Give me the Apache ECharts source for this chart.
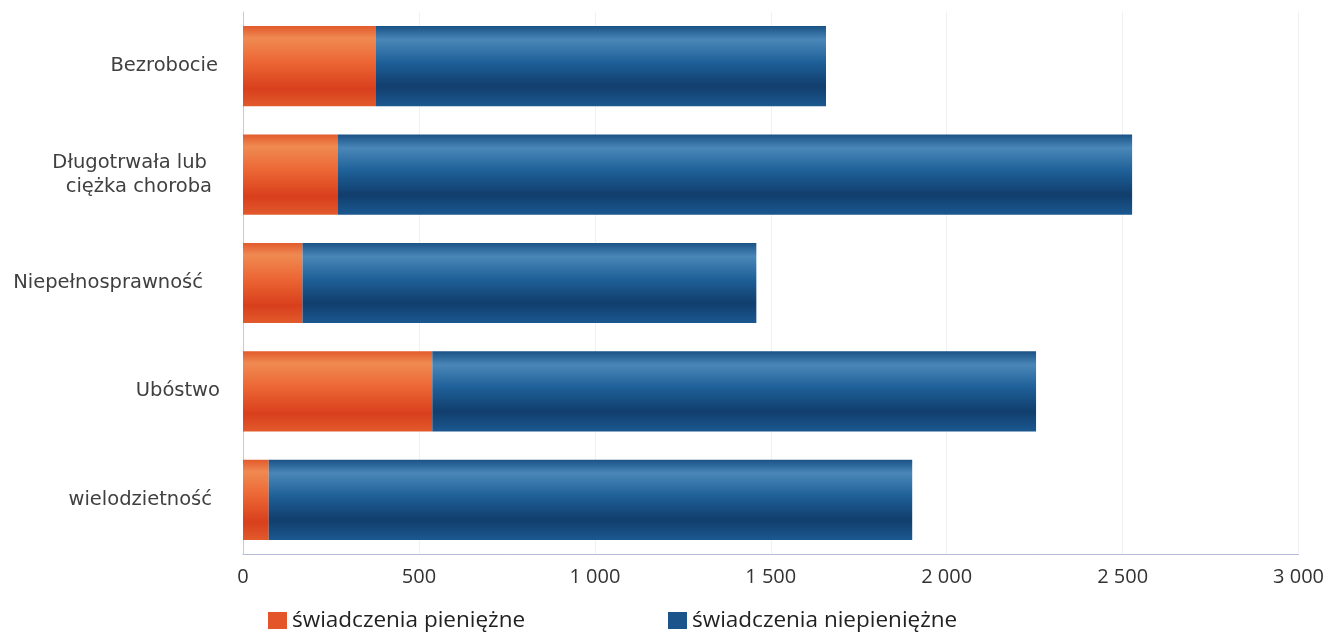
<!DOCTYPE html>
<html><head><meta charset="utf-8">
<script src="https://cdn.jsdelivr.net/npm/echarts@6/dist/echarts.min.js"></script>
<style>html,body{margin:0;padding:0;background:#fff}#c{width:1327px;height:636px}</style>
</head><body><div id="c"></div>
<script>
const categories = ["Bezrobocie", "Długotrwała lub\nciężka choroba", "Niepełnosprawność", "Ubóstwo", "wielodzietność"];
const seriesNames = ["świadczenia pieniężne", "świadczenia niepieniężne"];
const cashValues = [378, 270, 169, 538, 73];
const nonCashValues = [1279, 2257, 1290, 1716, 1829];
const xTicks = [0, 500, 1000, 1500, 2000, 2500, 3000];

const orangeGrad = new echarts.graphic.LinearGradient(0, 0, 0, 1, [
  {offset: 0, color: '#e25a2c'}, {offset: 0.15, color: '#f08a52'}, {offset: 0.45, color: '#ec6634'},
  {offset: 0.78, color: '#d83f1c'}, {offset: 1, color: '#e25a2c'}]);
const blueGrad = new echarts.graphic.LinearGradient(0, 0, 0, 1, [
  {offset: 0, color: '#1a5285'}, {offset: 0.17, color: '#4a87b8'}, {offset: 0.45, color: '#1e6098'},
  {offset: 0.75, color: '#113e6d'}, {offset: 1, color: '#1b5890'}]);

// label right-padding per visual line (layout only)
const padMap = {"Bezrobocie": 2, "Długotrwała lub": 13, "ciężka choroba": 8, "Niepełnosprawność": 17, "Ubóstwo": 0, "wielodzietność": 8};
const rich = {};
let k = 0;
const keyOf = {};
Object.keys(padMap).forEach(t => {
  const key = 'r' + (k++);
  keyOf[t] = key;
  rich[key] = {fontFamily: 'DejaVu Sans', fontSize: 19.5, color: '#404040', lineHeight: 24, align: 'right', padding: [0, padMap[t], 0, 0]};
});

const legendText = {fontFamily: 'Open Sans', fontSize: 22.5, color: '#222'};

const chart = echarts.init(document.getElementById('c'), null, {renderer: 'canvas'});
chart.setOption({
  animation: false,
  backgroundColor: '#fff',
  grid: {left: 243, right: 27, top: 12, bottom: 82, containLabel: false},
  legend: [
    {left: 263, top: 604, itemWidth: 19, itemHeight: 17, itemGap: 0, textStyle: legendText,
     data: [{name: seriesNames[0], icon: 'rect', itemStyle: {color: '#e4562a'}}]},
    {left: 663, top: 604, itemWidth: 19, itemHeight: 17, itemGap: 0, textStyle: legendText,
     data: [{name: seriesNames[1], icon: 'rect', itemStyle: {color: '#1a548a'}}]}
  ],
  xAxis: {
    type: 'value', min: 0, max: 3000, interval: 500,
    axisLine: {show: true, lineStyle: {color: '#b4bad8', width: 1}},
    axisTick: {show: false},
    splitLine: {show: true, lineStyle: {color: '#f1f1f4', width: 1}},
    axisLabel: {
      margin: 13, fontFamily: 'Open Sans', fontSize: 20, color: '#333',
      formatter: v => xTicks.includes(v) ? String(v).replace(/\B(?=(\d{3})+(?!\d))/g, ' ') : ''
    }
  },
  yAxis: {
    type: 'category', data: categories, inverse: true,
    axisLine: {show: true, lineStyle: {color: '#c4c8e0', width: 1}},
    axisTick: {show: false},
    axisLabel: {
      margin: 23, fontFamily: 'DejaVu Sans', fontSize: 19.5, color: '#404040', lineHeight: 24, align: 'right',
      formatter: v => v.split('\n').map(line => '{' + keyOf[line] + '|' + line + '}').join('\n'),
      rich: rich
    }
  },
  series: [
    {name: seriesNames[0], type: 'bar', stack: 's', data: cashValues, barCategoryGap: '26%',
     itemStyle: {color: orangeGrad}},
    {name: seriesNames[1], type: 'bar', stack: 's', data: nonCashValues, barCategoryGap: '26%',
     itemStyle: {color: blueGrad}}
  ]
});
</script></body></html>
